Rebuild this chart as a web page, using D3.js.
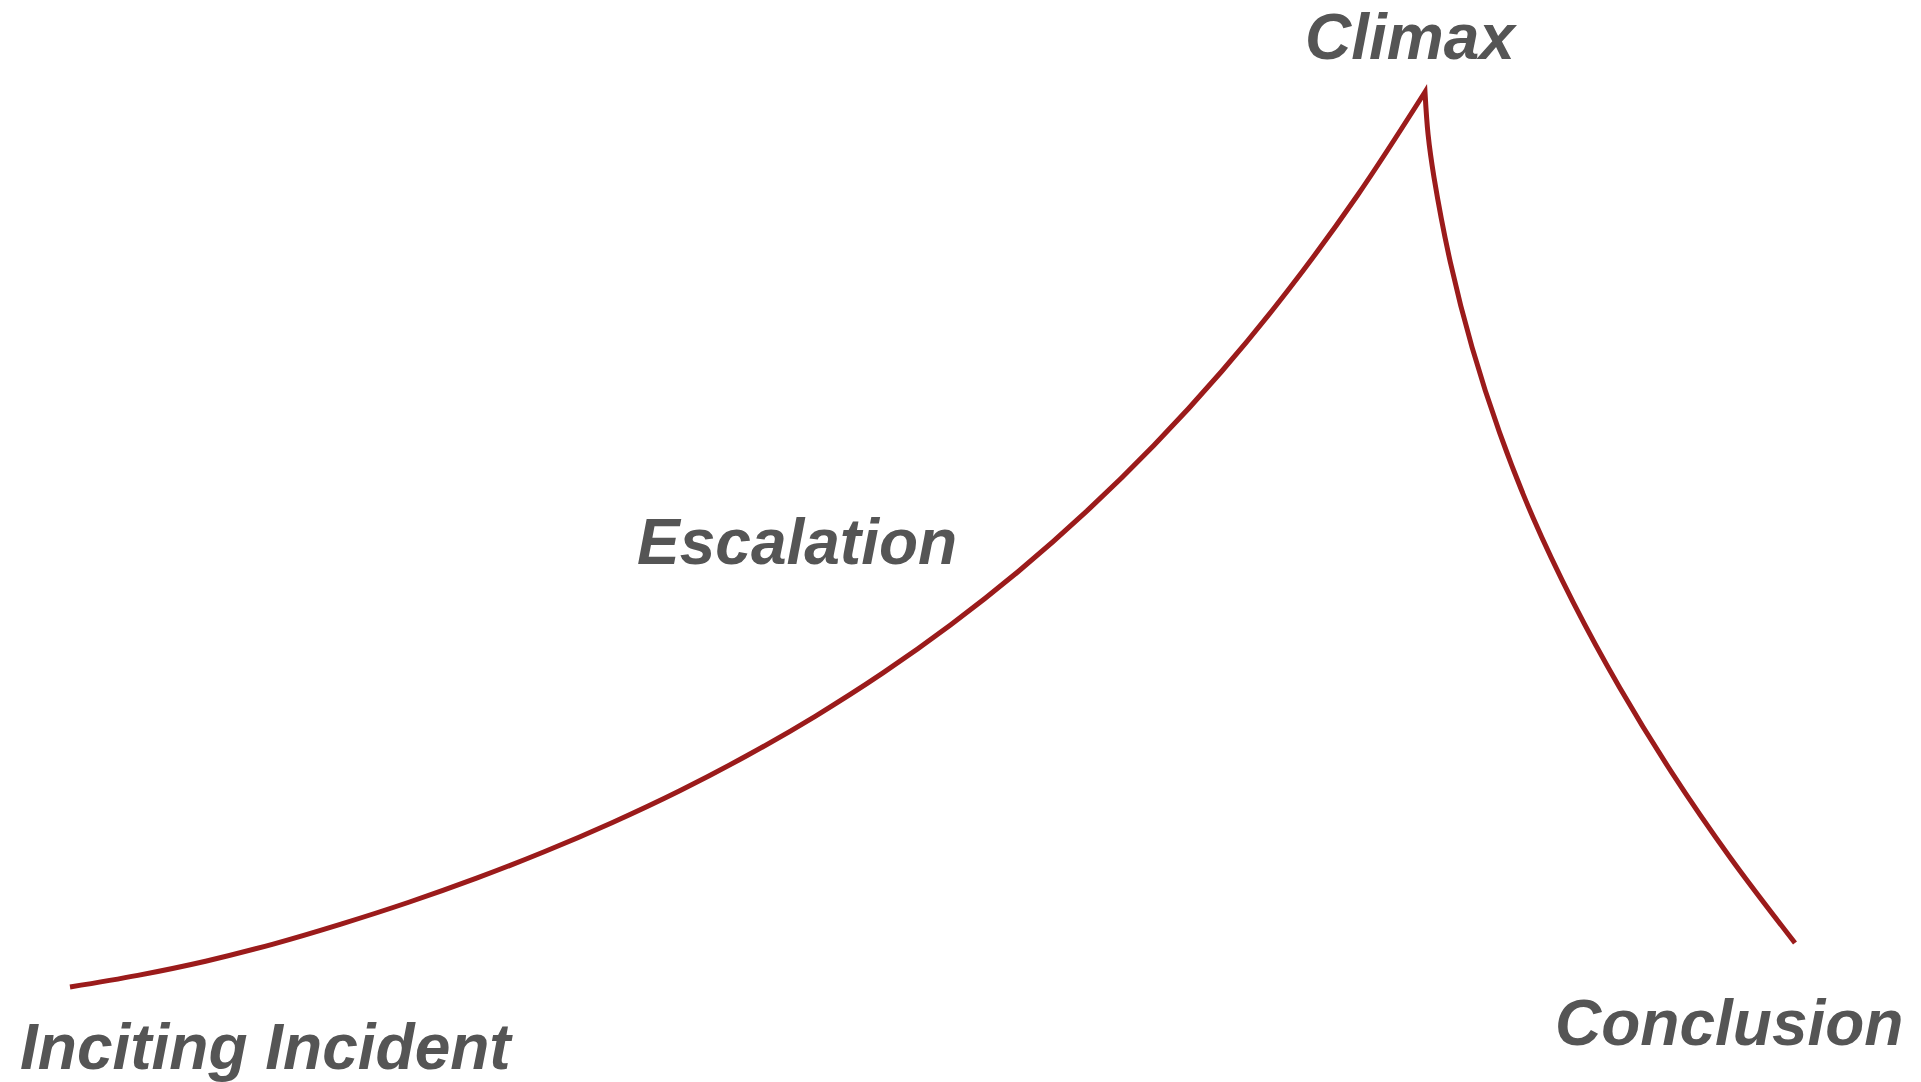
<!DOCTYPE html>
<html>
<head>
<meta charset="utf-8">
<script src="https://cdn.jsdelivr.net/npm/d3@7"></script>
<style>
  html, body { margin: 0; padding: 0; background: #ffffff; }
  svg { display: block; }
</style>
</head>
<body>
<svg id="chart" width="1921" height="1082"></svg>
<script>
// Story progress (0-100) and tension (0-100)
const risingProgress = [0, 3.93, 7.86, 11.78, 15.71, 19.64, 23.57, 27.49, 31.42, 35.35, 39.28,
                        43.20, 47.13, 51.06, 54.99, 58.91, 62.84, 66.77, 70.70, 74.62, 78.55];
const risingTension  = [0, 1.30, 2.88, 4.80, 7.03, 9.47, 12.16, 15.11, 18.36, 21.93, 25.89,
                        30.25, 35.09, 40.47, 46.45, 53.11, 60.53, 68.80, 78.07, 88.41, 100];
const fallingProgress = [78.55, 78.73, 79.07, 80.02, 81.28, 82.87, 84.81, 87.15, 89.84, 92.87, 96.26, 100];
const fallingTension  = [100, 95.24, 90.49, 80.98, 71.47, 61.97, 52.46, 42.95, 33.44, 23.93, 14.42, 4.92];
const stageLabels = ["Inciting Incident", "Escalation", "Climax", "Conclusion"];

const svg = d3.select("#chart");
const x = d3.scaleLinear().domain([0, 100]).range([70, 1795]);
const y = d3.scaleLinear().domain([0, 100]).range([987, 92]);

const rising = risingProgress.map((p, i) => ({p, t: risingTension[i]}));
const falling = fallingProgress.map((p, i) => ({p, t: fallingTension[i]}));

const line = d3.line()
  .x(d => x(d.p))
  .y(d => y(d.t))
  .curve(d3.curveCatmullRom.alpha(0.5));

// one path with a sharp cusp at the climax
const pathStr = line(rising) + line(falling).replace(/^M/, "L");
svg.append("path")
  .attr("d", pathStr)
  .attr("fill", "none")
  .attr("stroke", "#9b1b1b")
  .attr("stroke-width", 5)
  .attr("stroke-linejoin", "miter")
  .attr("stroke-miterlimit", 20);

const labelPos = [
  {x: 20, y: 1069},
  {x: 637, y: 564},
  {x: 1305, y: 59},
  {x: 1555, y: 1045}
];

svg.selectAll("text.stage")
  .data(stageLabels)
  .join("text")
  .attr("class", "stage")
  .attr("x", (d, i) => labelPos[i].x)
  .attr("y", (d, i) => labelPos[i].y)
  .attr("font-family", "'Liberation Sans', Arial, sans-serif")
  .attr("font-weight", "bold")
  .attr("font-style", "italic")
  .attr("font-size", 64)
  .attr("fill", "#555555")
  .text(d => d);
</script>
</body>
</html>
